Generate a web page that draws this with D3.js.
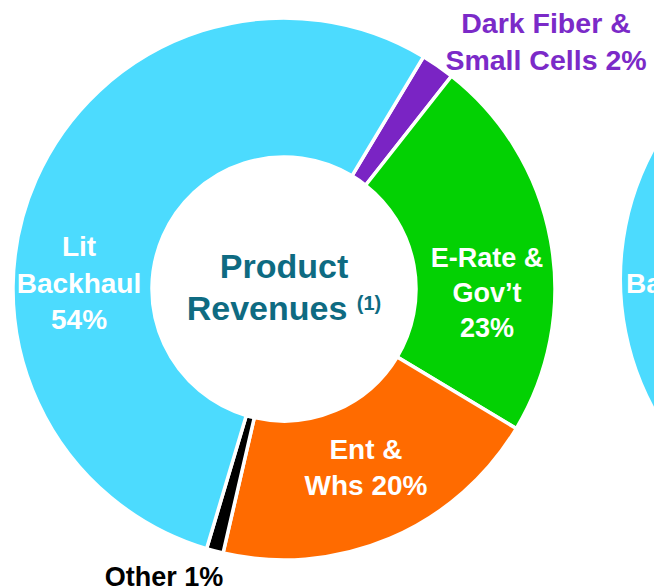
<!DOCTYPE html>
<html>
<head>
<meta charset="utf-8">
<script src="https://cdn.jsdelivr.net/npm/d3@7"></script>
<style>
  html, body { margin: 0; padding: 0; background: #ffffff; }
  svg { display: block; font-family: "Liberation Sans", Arial, sans-serif; font-weight: bold; }
</style>
</head>
<body>
<svg id="chart" width="654" height="588"></svg>
<script>
// Product revenue mix, clockwise from the top-right slice
const categories = ["Dark Fiber & Small Cells", "E-Rate & Gov’t", "Ent & Whs", "Other", "Lit Backhaul"];
const shares = [2, 23, 20, 1, 54];
const sliceColors = ["#7a24c4", "#03d103", "#ff6b00", "#000000", "#4cdbfe"];

// Label lines per slice (last line carries the share)
const labelLines = [
  ["Dark Fiber &", "Small Cells 2%"],
  ["E-Rate &", "Gov’t", "23%"],
  ["Ent &", "Whs 20%"],
  ["Other 1%"],
  ["Lit", "Backhaul", "54%"]
];

// Neighbouring chart, only its left edge fits in the frame
const nextCategories = ["Lit Backhaul", "Rest"];
const nextShares = [50, 50];

const svg = d3.select("#chart");
const W = 654, H = 588;
const cx = 284, cy = 289;
const outerR = 271, innerR = 132;

const startDeg = 31;
const pie = d3.pie()
  .sort(null)
  .value(d => d.value)
  .startAngle(startDeg * Math.PI / 180)
  .endAngle(startDeg * Math.PI / 180 + 2 * Math.PI);

const arc = d3.arc().innerRadius(innerR).outerRadius(outerR);

const data = categories.map((c, i) => ({ name: c, value: shares[i], color: sliceColors[i], lines: labelLines[i] }));
const arcs = pie(data);

// Neighbouring donut (drawn first, mostly off-canvas)
const nextPie = d3.pie().sort(null).value(d => d)
  .startAngle(Math.PI).endAngle(2 * Math.PI);
const nextG = svg.append("g").attr("transform", `translate(${cx + 609},${cy - 10})`);
nextG.selectAll("path")
  .data(nextPie(nextShares.slice(0, 1)))
  .join("path")
  .attr("d", arc)
  .attr("fill", sliceColors[4]);
nextG.append("text")
  .attr("x", -267)
  .attr("y", 14)
  .attr("fill", "#ffffff")
  .attr("font-size", 28)
  .text("Backhaul");

// Main donut
const g = svg.append("g").attr("transform", `translate(${cx},${cy})`);
g.selectAll("path.slice")
  .data(arcs)
  .join("path")
  .attr("class", "slice")
  .attr("d", arc)
  .attr("fill", d => d.data.color)
  .attr("stroke", "#ffffff")
  .attr("stroke-width", 3.5)
  .attr("stroke-linejoin", "miter");

// Label anchor points relative to the centre, with text styling per slice
const labelStyle = [
  { dx: 262, dy: -256, fill: "#7b2ac8", size: 28.5, lh: 37 },
  { dx: 203, dy: -22, fill: "#ffffff", size: 27, lh: 35 },
  { dx: 82, dy: 170, fill: "#ffffff", size: 28, lh: 36 },
  { dx: -120, dy: 297, fill: "#000000", size: 27, lh: 36 },
  { dx: -205, dy: -33, fill: "#ffffff", size: 28, lh: 36.5 }
];

arcs.forEach((a, i) => {
  const s = labelStyle[i];
  const t = g.append("text")
    .attr("text-anchor", "middle")
    .attr("fill", s.fill)
    .attr("font-size", s.size);
  a.data.lines.forEach((line, k) => {
    t.append("tspan")
      .attr("x", s.dx)
      .attr("y", s.dy + k * s.lh)
      .text(line);
  });
});

// Centre title
const title = g.append("text")
  .attr("text-anchor", "middle")
  .attr("fill", "#0e6b82")
  .attr("font-size", 34);
title.append("tspan").attr("x", 0).attr("y", -11).text("Product");
const line2 = title.append("tspan").attr("x", 0).attr("y", 31);
line2.append("tspan").text("Revenues ");
line2.append("tspan").attr("font-size", 20).attr("dy", -10).text("(1)");
</script>
</body>
</html>
